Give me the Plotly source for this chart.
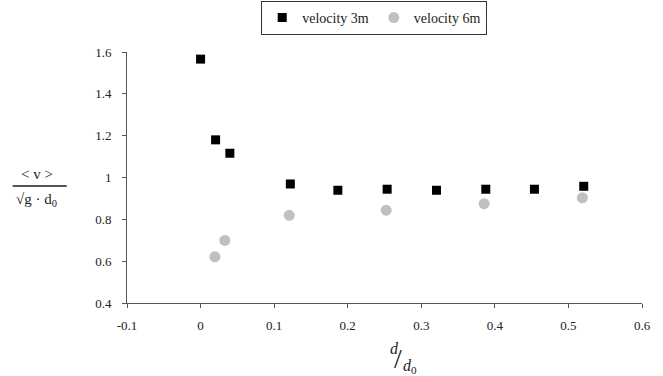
import plotly.graph_objects as go

# data
x_3m = [0.0, 0.0204, 0.0398, 0.122, 0.1866, 0.2536, 0.3207, 0.3877, 0.4538, 0.5208]
y_3m = [1.566, 1.18, 1.116, 0.969, 0.939, 0.944, 0.939, 0.944, 0.944, 0.958]
x_6m = [0.0195, 0.033, 0.1205, 0.2523, 0.3854, 0.519]
y_6m = [0.621, 0.699, 0.819, 0.844, 0.875, 0.903]
x_ticks = [-0.1, 0.0, 0.1, 0.2, 0.3, 0.4, 0.5, 0.6]
x_ticklabels = ["-0.1", "0", "0.1", "0.2", "0.3", "0.4", "0.5", "0.6"]
y_ticks = [0.4, 0.6, 0.8, 1.0, 1.2, 1.4, 1.6]
y_ticklabels = ["0.4", "0.6", "0.8", "1", "1.2", "1.4", "1.6"]

FONT = "Liberation Serif"
fig = go.Figure()
fig.add_trace(go.Scatter(x=x_3m, y=y_3m, mode="markers", name="velocity 3m",
                         marker=dict(symbol="square", size=9, color="black")))
fig.add_trace(go.Scatter(x=x_6m, y=y_6m, mode="markers", name="velocity 6m",
                         marker=dict(symbol="circle", size=11, color="#c0c0c0")))

axis_common = dict(showgrid=False, zeroline=False, showline=True, linecolor="#555555",
                   linewidth=1, ticks="outside", ticklen=4, tickcolor="#555555",
                   tickfont=dict(family=FONT, size=13, color="#222222"))
fig.update_xaxes(range=[-0.1, 0.6], tickvals=x_ticks, ticktext=x_ticklabels,
                 ticklabelstandoff=6, **axis_common)
fig.update_yaxes(range=[0.4, 1.6], tickvals=y_ticks, ticktext=y_ticklabels,
                 ticklabelstandoff=8, **axis_common)

fig.update_layout(
    width=663, height=376,
    margin=dict(l=127, r=21, t=52, b=73, autoexpand=False),
    paper_bgcolor="white", plot_bgcolor="white",
    font=dict(family=FONT, size=13, color="#222222"),
    legend=dict(orientation="h", x=0.48, xanchor="center", y=1.068, yanchor="bottom",
                bordercolor="#333333", borderwidth=1,
                font=dict(family=FONT, size=14), tracegroupgap=0,
                itemwidth=30),
)

# y-axis title as a fraction
fig.add_annotation(text="&lt; v &gt;", xref="paper", yref="paper",
                   x=-0.175, y=0.475, xanchor="center", yanchor="bottom", showarrow=False,
                   font=dict(family=FONT, size=15))
fig.add_annotation(text="√g · d<sub>0</sub>", xref="paper", yref="paper",
                   x=-0.175, y=0.455, xanchor="center", yanchor="top", showarrow=False,
                   font=dict(family=FONT, size=15))
fig.add_shape(type="line", xref="paper", yref="paper", x0=-0.222, x1=-0.117,
              y0=0.466, y1=0.466, line=dict(color="#555555", width=2))

# x title d/d0
fig.add_annotation(text="<i>d</i>", xref="paper", yref="paper", x=0.519, y=-0.183,
                   xanchor="center", yanchor="middle",
                   showarrow=False, font=dict(family=FONT, size=16))
fig.add_annotation(text="/", xref="paper", yref="paper", x=0.526, y=-0.223,
                   xanchor="center", yanchor="middle",
                   showarrow=False, font=dict(family=FONT, size=28))
fig.add_annotation(text="<i>d</i><sub>0</sub>", xref="paper", yref="paper", x=0.549, y=-0.252,
                   xanchor="center", yanchor="middle",
                   showarrow=False, font=dict(family=FONT, size=16))

fig.write_html("out.html")
